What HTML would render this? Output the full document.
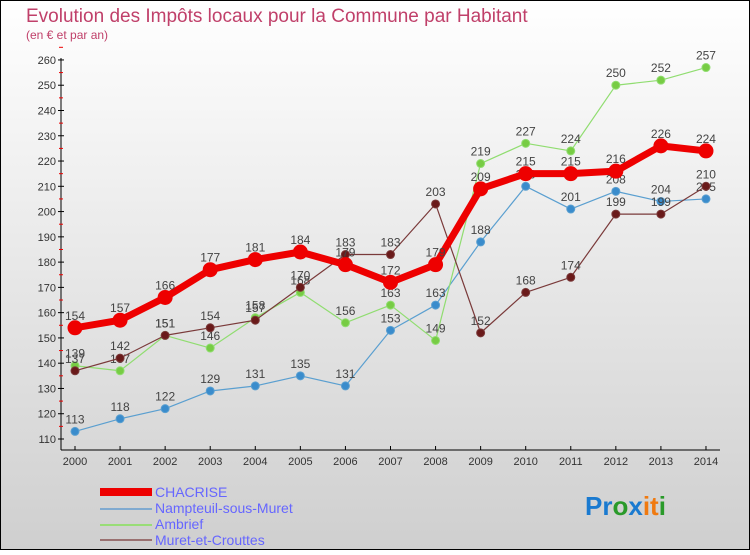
<!DOCTYPE html>
<html><head><meta charset="utf-8"><style>
html,body{margin:0;padding:0}
body{width:750px;height:550px;overflow:hidden;font-family:"Liberation Sans",sans-serif}
</style></head><body>
<svg id="chart" width="750" height="550" xmlns="http://www.w3.org/2000/svg">
<defs><linearGradient id="bg" x1="0" y1="0" x2="0" y2="1"><stop offset="0" stop-color="#ffffff"/><stop offset="1" stop-color="#cfcfcf"/></linearGradient></defs>
<rect x="0.5" y="0.5" width="749" height="549" fill="url(#bg)" stroke="#000"/>
<text x="26" y="22" font-size="19" fill="#c0406a">Evolution des Impôts locaux pour la Commune par Habitant</text>
<text x="26" y="39" font-size="12" fill="#c0406a">(en € et par an)</text>
<g id="axes"></g><g id="series"></g>
<g font-size="14" fill="#6666ff">
<rect x="100" y="488" width="52" height="8" fill="#e00"/><text x="155" y="497">CHACRISE</text>
<line x1="100" y1="509" x2="152" y2="509" stroke="#80aad0" stroke-width="2"/><text x="155" y="513">Nampteuil-sous-Muret</text>
<line x1="100" y1="525" x2="152" y2="525" stroke="#99dd77" stroke-width="2"/><text x="155" y="529">Ambrief</text>
<line x1="100" y1="540" x2="152" y2="540" stroke="#997070" stroke-width="2"/><text x="155" y="545">Muret-et-Crouttes</text>
</g>
<text x="585" y="515" font-size="26" font-weight="bold"><tspan fill="#1a7ad0">Pr</tspan><tspan fill="#2a9a2a">o</tspan><tspan fill="#1a7ad0">x</tspan><tspan fill="#f07a10">it</tspan><tspan fill="#2a9a2a">i</tspan></text>
</svg>
<script>
const years=[2000,2001,2002,2003,2004,2005,2006,2007,2008,2009,2010,2011,2012,2013,2014];
const yTicks=[110,120,130,140,150,160,170,180,190,200,210,220,230,240,250,260];
const chacrise=[154,157,166,177,181,184,179,172,179,209,215,215,216,226,224];
const nampteuil=[113,118,122,129,131,135,131,153,163,188,210,201,208,204,205];
const ambrief=[139,137,151,146,158,168,156,163,149,219,227,224,250,252,257];
const muret=[137,142,151,154,157,170,183,183,203,152,168,174,199,199,210];
const NS="http://www.w3.org/2000/svg";
const xs=i=>75+i*45.07;
const ys=v=>439-(v-110)*2.527;
function mk(t,a,p){const e=document.createElementNS(NS,t);for(const k in a)e.setAttribute(k,a[k]);p.appendChild(e);return e;}
const ax=document.getElementById('axes');
mk('line',{x1:61,y1:58,x2:61,y2:450,stroke:'#000'},ax);
mk('line',{x1:61,y1:450,x2:720,y2:450,stroke:'#000'},ax);
yTicks.forEach(v=>{
 mk('line',{x1:58,y1:ys(v),x2:64,y2:ys(v),stroke:'#000'},ax);
 mk('line',{x1:59,y1:ys(v+5),x2:63,y2:ys(v+5),stroke:'#e00'},ax);
 const t=mk('text',{x:56,y:ys(v)+4,'font-size':11,fill:'#333','text-anchor':'end'},ax);
 
 
 t.textContent=v;
});
years.forEach((y,i)=>{
 mk('line',{x1:xs(i),y1:446,x2:xs(i),y2:450,stroke:'#000'},ax);
 const t=mk('text',{x:xs(i),y:465,'font-size':11,fill:'#333','text-anchor':'middle'},ax);
 
 
 t.textContent=y;
});
const sg=document.getElementById('series');
function series(name,data,color,dot,w,r){
 const g=mk('g',{},sg);
 
 
 mk('polyline',{points:data.map((v,i)=>xs(i)+','+ys(v)).join(' '),fill:'none',stroke:color,'stroke-width':w,'stroke-linejoin':'round'},g);
 data.forEach((v,i)=>{
  const c=mk('circle',{cx:xs(i),cy:ys(v),r:r,fill:dot,stroke:color,'stroke-width':1},g);
  
  
  const t=mk('text',{x:xs(i),y:ys(v)-8,'font-size':12,fill:'#444','text-anchor':'middle'},g);
  
  
  t.textContent=v;
 });
}
series('nampteuil-series',nampteuil,'#5a9fd0','#3a8ccc',1.2,4);
series('ambrief-series',ambrief,'#90dd70','#77cc44',1.2,4);
series('muret-series',muret,'#7a3a3a','#6a1a1a',1.2,4);
series('chacrise-series',chacrise,'#ee0000','#ee0000',7,7);
</script>
</body></html>
